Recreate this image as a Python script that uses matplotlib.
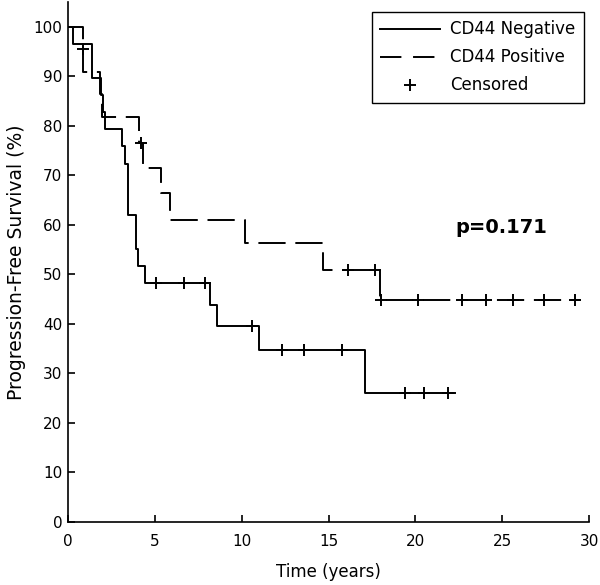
import numpy as np
import matplotlib.pyplot as plt
from matplotlib.lines import Line2D

plt.rcParams['font.family'] = ['DejaVu Sans']

# CD44 negative: step times (years) and survival (%)
neg_t = [0, 0.3, 1.37, 1.9, 2.05, 2.15, 3.1, 3.3, 3.45, 3.95, 4.05, 4.45, 8.2, 8.6, 11.0, 17.1, 22.3]
neg_s = [100, 96.6, 89.7, 86.2, 82.8, 79.3, 75.9, 72.4, 62.1, 55.2, 51.7, 48.3, 43.9, 39.5, 34.7, 26.0, 26.0]
neg_cens_t = [5.1, 6.7, 7.9, 10.6, 12.3, 13.6, 15.8, 19.4, 20.5, 21.9]
neg_cens_s = [48.3, 48.3, 48.3, 39.5, 34.7, 34.7, 34.7, 26.0, 26.0, 26.0]

# CD44 positive
pos_t = [0, 0.85, 0.87, 1.83, 1.96, 4.08, 4.3, 5.36, 5.9, 10.17, 14.7, 17.95, 29.5]
pos_s = [100, 95.5, 90.9, 86.4, 81.8, 76.6, 71.6, 66.5, 61.1, 56.4, 51.0, 44.8, 44.8]
pos_cens_t = [0.85, 4.2, 16.1, 17.7, 18.0, 20.15, 22.7, 24.06, 25.6, 27.4, 29.2]
pos_cens_s = [95.5, 76.6, 51.0, 51.0, 44.8, 44.8, 44.8, 44.8, 44.8, 44.8, 44.8]

p_text = "p=0.171"

lw = 1.4
dash = (14, 5)

fig = plt.figure(figsize=(6, 5.85), dpi=100)
ax = fig.add_axes([0.113, 0.1077, 0.869, 0.8885])

ax.step(neg_t, neg_s, where='post', color='black', linewidth=lw)
ax.step(pos_t, pos_s, where='post', color='black', linewidth=lw, dashes=dash)
ax.plot(neg_cens_t, neg_cens_s, '+', color='black', markersize=9, markeredgewidth=lw)
ax.plot(pos_cens_t, pos_cens_s, '+', color='black', markersize=9, markeredgewidth=lw)

ax.text(22.3, 59.4, p_text, fontsize=14, fontweight='bold', va='center', ha='left')

ax.set_xlim(0, 30)
ax.set_ylim(0, 105)
ax.set_xticks(np.arange(0, 31, 5))
ax.set_yticks(np.arange(0, 101, 10))
ax.spines['top'].set_visible(False)
ax.spines['right'].set_visible(False)
ax.spines['left'].set_linewidth(1.2)
ax.spines['bottom'].set_linewidth(1.2)
ax.tick_params(direction='in', length=5, width=1.2, labelsize=11)
ax.tick_params(axis='x', pad=9)
ax.tick_params(axis='y', pad=4)
ax.set_xlabel("Time (years)", fontsize=12, labelpad=10)
ax.set_ylabel("Progression-Free Survival (%)", fontsize=13.5, labelpad=5)

handles = [
    Line2D([], [], color='black', linewidth=lw),
    Line2D([], [], color='black', linewidth=lw, dashes=(11, 6)),
    Line2D([], [], color='black', linestyle='none', marker='+', markersize=9, markeredgewidth=lw),
]
leg = ax.legend(handles, ["CD44 Negative", "CD44 Positive", "Censored"],
                loc='upper right', bbox_to_anchor=(0.99, 0.981), borderaxespad=0,
                fontsize=12, handlelength=3.6, handletextpad=0.6, labelspacing=0.6,
                borderpad=0.5, fancybox=False, edgecolor='black', framealpha=1)
leg.get_frame().set_linewidth(1.0)

fig.savefig("out.png", dpi=100)
